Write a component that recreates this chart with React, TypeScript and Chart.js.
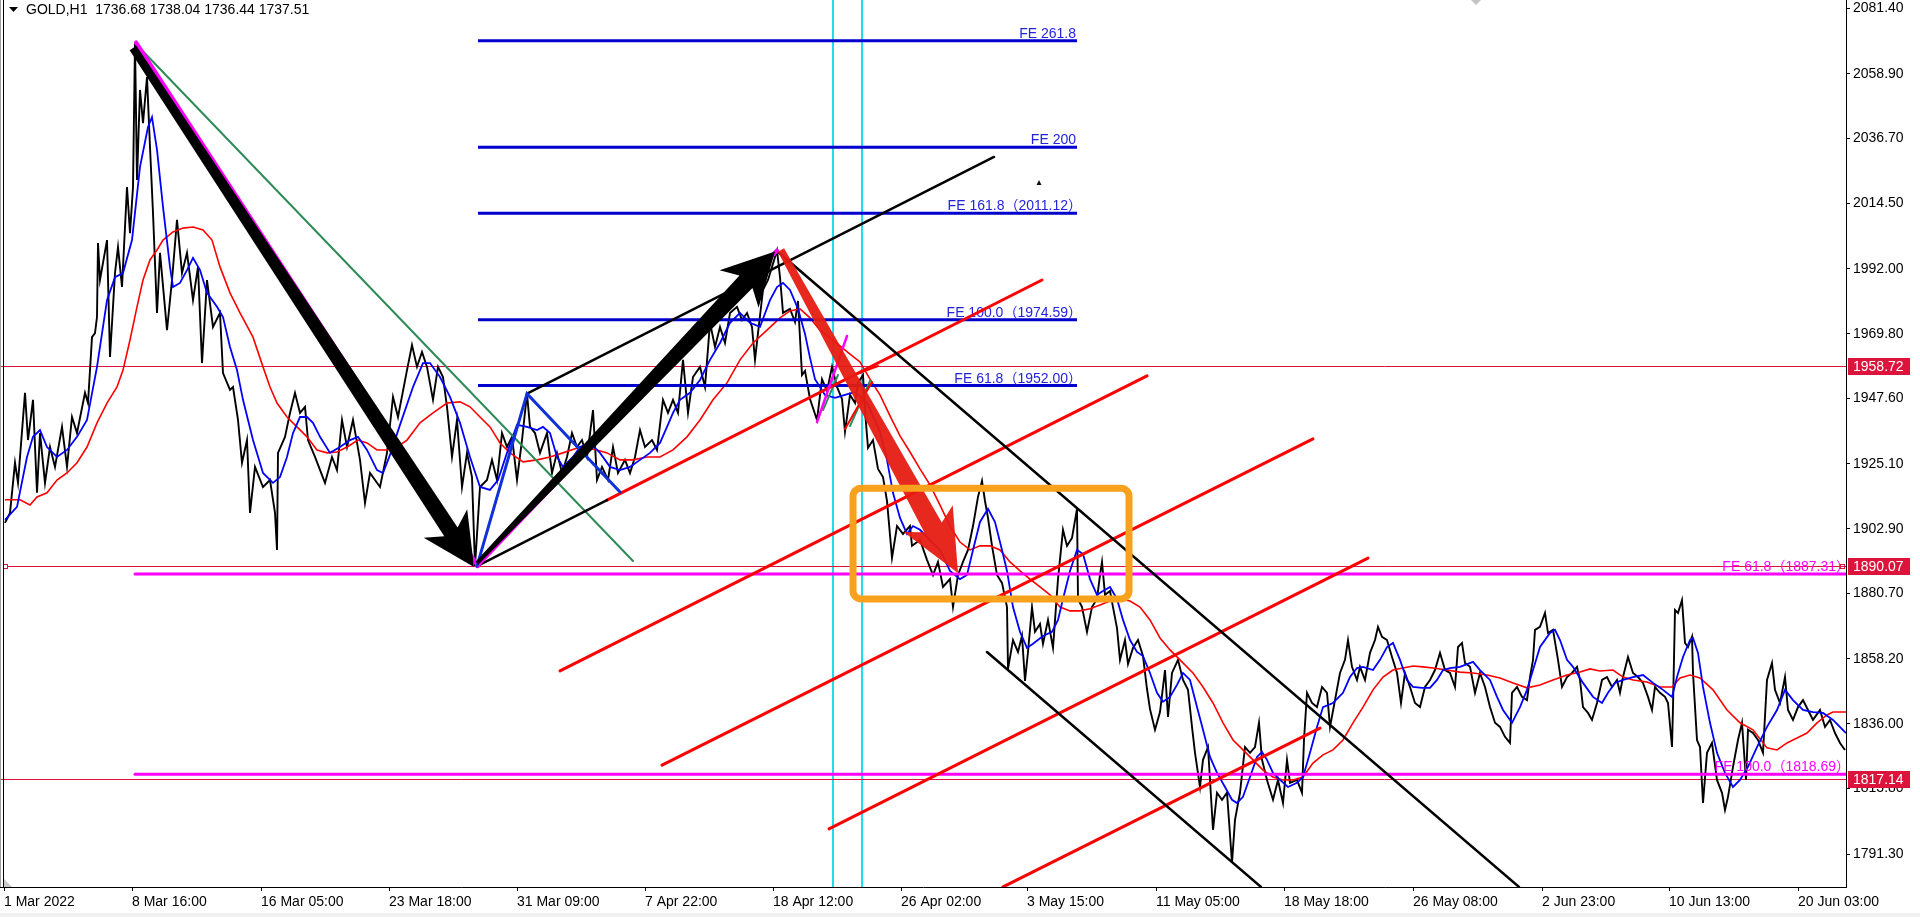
import { useEffect, useRef } from 'react';
import { Chart, registerables } from 'chart.js';

Chart.register(...registerables);

const FONT = '"Liberation Sans", Arial, "Noto Sans CJK SC", sans-serif';

// ---------- axes ----------
const priceAxisTicks = [2081.4, 2058.9, 2036.7, 2014.5, 1992.0, 1969.8, 1947.6, 1925.1, 1902.9, 1880.7, 1858.2, 1836.0, 1813.8, 1791.3];
const timeTickBars = [4, 132, 261, 389, 517, 645, 773, 901, 1027, 1156, 1284, 1413, 1542, 1669, 1798];
const timeTickLabels = ['1 Mar 2022', '8 Mar 16:00', '16 Mar 05:00', '23 Mar 18:00', '31 Mar 09:00', '7 Apr 22:00', '18 Apr 12:00', '26 Apr 02:00', '3 May 15:00', '11 May 05:00', '18 May 18:00', '26 May 08:00', '2 Jun 23:00', '10 Jun 13:00', '20 Jun 03:00'];
const markedPrices = [1958.72, 1890.07, 1817.14];
const headerText = 'GOLD,H1  1736.68 1738.04 1736.44 1737.51';

// ---------- price (bar index, price) ----------
const pricePath: [number, number][] = [
  [5, 1904.9], [10, 1908.3], [15, 1925.5], [18, 1918.6], [25, 1949.5], [28, 1933.3], [33, 1947.1], [37, 1915.2], [40, 1935.7], [45, 1918.6],
  [50, 1930.9], [55, 1924.1], [62, 1937.8], [67, 1924.1], [72, 1941.2], [77, 1935.7], [85, 1949.5], [88, 1946.0], [92, 1968.6], [95, 1970.0],
  [97, 1975.5], [98, 2000.9], [100, 1988.2], [107, 2001.9], [110, 1961.8], [115, 1990.6], [118, 1999.5], [122, 1985.8], [127, 2020.1], [130, 2004.3],
  [133, 2020.1], [135, 2069.7], [137, 2022.5], [140, 2053.4], [143, 2042.0], [147, 2057.8], [150, 2033.8], [153, 2011.2], [157, 1976.9], [160, 1997.5],
  [167, 1971.0], [172, 1988.2], [177, 2008.8], [182, 1990.6], [187, 1997.5], [193, 1981.3], [198, 1992.7], [202, 1959.7], [207, 1988.2], [213, 1972.1],
  [220, 1976.9], [223, 1956.3], [230, 1950.5], [233, 1951.5], [238, 1940.2], [242, 1925.5], [247, 1933.3], [250, 1908.3], [255, 1924.1], [263, 1917.2],
  [270, 1919.6], [275, 1908.3], [277, 1895.6], [278, 1928.9], [285, 1934.4], [290, 1942.6], [295, 1949.5], [300, 1942.6], [305, 1944.7], [308, 1933.3],
  [315, 1927.5], [325, 1918.6], [332, 1927.5], [337, 1923.0], [342, 1940.2], [347, 1930.9], [353, 1940.2], [360, 1926.5], [365, 1911.7], [370, 1922.0],
  [380, 1917.2], [387, 1928.9], [393, 1948.1], [398, 1941.2], [407, 1957.3], [412, 1965.9], [417, 1958.4], [422, 1963.5], [427, 1958.4], [433, 1947.1],
  [438, 1958.4], [443, 1954.9], [447, 1944.7], [452, 1927.5], [457, 1940.2], [462, 1917.2], [467, 1928.9], [472, 1920.6], [475, 1890.07], [480, 1917.2],
  [487, 1919.6], [492, 1926.5], [497, 1919.6], [502, 1935.7], [507, 1930.9], [512, 1934.4], [517, 1919.6], [522, 1933.3], [527, 1949.2], [530, 1937.8],
  [535, 1935.7], [540, 1928.9], [547, 1935.7], [552, 1922.0], [557, 1928.9], [562, 1922.0], [567, 1927.5], [572, 1935.7], [577, 1930.9], [582, 1933.3],
  [587, 1927.5], [593, 1943.6], [597, 1919.6], [602, 1924.1], [608, 1919.6], [613, 1930.9], [618, 1922.0], [625, 1926.5], [630, 1922.0], [635, 1927.5],
  [640, 1936.7], [645, 1930.9], [652, 1933.3], [657, 1929.9], [663, 1947.1], [668, 1942.6], [673, 1947.1], [678, 1942.6], [683, 1960.8], [688, 1942.6],
  [693, 1954.9], [700, 1958.4], [705, 1951.5], [710, 1973.5], [715, 1965.2], [720, 1972.1], [725, 1966.6], [730, 1976.9], [737, 1979.0], [742, 1974.5],
  [747, 1976.9], [752, 1972.1], [755, 1960.8], [758, 1970.0], [763, 1984.8], [768, 1988.2], [772, 1992.7], [777, 1998.32], [780, 1989.2], [783, 1976.9],
  [790, 1978.3], [795, 1973.8], [798, 1981.0], [802, 1955.6], [805, 1957.0], [810, 1947.4], [817, 1940.2], [822, 1954.2], [827, 1950.1], [832, 1958.4],
  [837, 1951.5], [842, 1947.4], [845, 1936.1], [850, 1948.8], [855, 1946.0], [858, 1952.9], [863, 1955.6], [865, 1943.3], [868, 1930.6], [873, 1933.3],
  [878, 1923.4], [883, 1920.6], [887, 1912.4], [892, 1892.9], [897, 1903.8], [903, 1901.1], [910, 1903.8], [912, 1897.0], [920, 1899.0], [927, 1892.2],
  [933, 1887.0], [938, 1891.5], [943, 1882.9], [950, 1885.6], [953, 1876.0], [958, 1887.0], [963, 1891.5], [968, 1895.6], [973, 1903.8], [978, 1913.8],
  [982, 1919.3], [985, 1912.4], [988, 1906.6], [992, 1897.0], [997, 1887.0], [1002, 1884.3], [1007, 1876.0], [1008, 1854.8], [1013, 1864.7], [1018, 1860.6],
  [1022, 1866.1], [1025, 1850.7], [1028, 1860.6], [1032, 1876.0], [1035, 1867.5], [1040, 1870.2], [1043, 1863.4], [1048, 1871.6], [1053, 1862.0], [1058, 1885.6],
  [1063, 1902.5], [1067, 1897.0], [1072, 1899.7], [1077, 1909.7], [1078, 1878.8], [1082, 1876.0], [1087, 1867.5], [1092, 1876.0], [1097, 1878.8], [1100, 1887.0],
  [1102, 1891.5], [1105, 1880.2], [1110, 1881.5], [1113, 1876.0], [1117, 1868.8], [1120, 1857.9], [1125, 1864.7], [1128, 1856.5], [1133, 1862.0], [1138, 1864.7],
  [1143, 1859.2], [1147, 1847.9], [1150, 1841.0], [1155, 1833.9], [1160, 1840.0], [1165, 1854.4], [1168, 1838.3], [1172, 1853.4], [1178, 1857.9], [1183, 1851.0],
  [1188, 1847.6], [1192, 1834.9], [1195, 1826.0], [1200, 1814.3], [1203, 1823.6], [1208, 1828.0], [1213, 1799.6], [1217, 1812.3], [1222, 1809.9], [1227, 1812.3],
  [1232, 1788.3], [1235, 1803.0], [1240, 1812.3], [1245, 1828.0], [1250, 1826.0], [1255, 1828.0], [1259, 1836.3], [1262, 1823.6], [1267, 1816.7], [1273, 1809.9],
  [1278, 1816.7], [1283, 1808.8], [1287, 1823.6], [1290, 1815.7], [1297, 1816.7], [1302, 1812.3], [1304, 1830.4], [1307, 1846.6], [1312, 1843.1], [1317, 1841.7],
  [1322, 1848.6], [1327, 1846.6], [1330, 1834.9], [1335, 1844.1], [1340, 1853.4], [1345, 1857.9], [1348, 1864.7], [1352, 1855.5], [1357, 1851.0], [1360, 1855.5],
  [1365, 1851.0], [1370, 1860.3], [1375, 1864.7], [1378, 1869.2], [1382, 1865.8], [1387, 1864.7], [1392, 1858.9], [1397, 1853.4], [1401, 1843.1], [1405, 1853.4],
  [1410, 1848.6], [1415, 1843.1], [1420, 1841.7], [1425, 1848.6], [1430, 1851.0], [1435, 1854.4], [1440, 1860.3], [1445, 1854.4], [1450, 1853.4], [1455, 1848.6],
  [1458, 1862.3], [1462, 1863.7], [1465, 1856.8], [1470, 1855.5], [1475, 1846.6], [1480, 1853.4], [1485, 1848.6], [1490, 1841.7], [1495, 1836.3], [1500, 1834.9],
  [1505, 1831.5], [1510, 1829.4], [1512, 1846.6], [1517, 1848.6], [1522, 1845.2], [1527, 1844.1], [1530, 1852.0], [1533, 1857.9], [1535, 1868.2], [1540, 1869.2],
  [1545, 1874.0], [1548, 1867.1], [1553, 1868.2], [1558, 1857.9], [1562, 1848.6], [1567, 1852.0], [1572, 1853.4], [1577, 1855.5], [1580, 1851.0], [1583, 1841.7],
  [1588, 1839.7], [1592, 1837.3], [1597, 1843.1], [1602, 1851.0], [1607, 1852.0], [1612, 1848.6], [1617, 1851.0], [1620, 1846.6], [1623, 1852.0], [1628, 1858.9],
  [1633, 1853.4], [1638, 1852.0], [1643, 1850.0], [1648, 1845.2], [1652, 1840.7], [1655, 1848.6], [1660, 1846.6], [1665, 1845.2], [1668, 1843.1], [1672, 1828.0],
  [1673, 1841.7], [1675, 1875.0], [1678, 1874.0], [1682, 1878.4], [1685, 1863.7], [1688, 1862.3], [1692, 1865.8], [1693, 1853.4], [1697, 1830.4], [1700, 1828.0],
  [1703, 1808.8], [1707, 1826.0], [1712, 1829.4], [1717, 1816.7], [1722, 1812.3], [1725, 1806.4], [1728, 1810.9], [1733, 1821.2], [1738, 1830.4], [1742, 1836.3],
  [1746, 1816.7], [1748, 1833.9], [1753, 1832.8], [1758, 1830.4], [1763, 1826.0], [1767, 1851.0], [1772, 1856.8], [1775, 1847.6], [1780, 1843.1], [1785, 1852.0],
  [1788, 1840.7], [1793, 1837.3], [1798, 1841.7], [1803, 1844.1], [1808, 1840.7], [1813, 1837.3], [1820, 1840.7], [1825, 1834.9], [1830, 1837.3], [1835, 1832.8],
  [1840, 1829.4], [1845, 1827.0],
];

// fast moving average (blue)
const fastMA: [number, number][] = [
  [5, 1905.9], [17, 1910.4], [27, 1927.5], [33, 1934.4], [40, 1936.7], [47, 1930.9], [57, 1927.5], [67, 1929.9], [77, 1934.4], [87, 1940.2],
  [97, 1958.4], [107, 1981.3], [115, 1989.2], [123, 1990.6], [132, 2001.9], [140, 2027.0], [148, 2040.7], [152, 2044.1], [157, 2032.8], [163, 2013.3],
  [170, 1992.7], [173, 1985.8], [180, 1987.2], [187, 1991.6], [193, 1995.8], [200, 1991.6], [207, 1983.8], [217, 1979.0], [223, 1975.5], [230, 1965.2],
  [237, 1957.3], [243, 1947.1], [253, 1933.3], [263, 1922.0], [273, 1918.6], [280, 1920.6], [287, 1927.5], [293, 1935.7], [300, 1941.2], [307, 1941.2],
  [313, 1939.2], [320, 1934.4], [330, 1928.9], [340, 1930.9], [350, 1933.3], [358, 1934.4], [367, 1929.9], [377, 1923.0], [383, 1922.0], [390, 1928.2],
  [400, 1938.5], [413, 1951.5], [423, 1959.7], [430, 1959.7], [440, 1954.9], [450, 1948.1], [460, 1939.2], [470, 1927.5], [480, 1917.2], [490, 1916.2],
  [498, 1919.6], [507, 1928.9], [517, 1938.5], [527, 1937.8], [537, 1936.7], [543, 1937.8], [550, 1935.7], [557, 1927.5], [563, 1924.1], [573, 1927.5],
  [580, 1930.9], [590, 1932.3], [600, 1928.9], [610, 1924.1], [620, 1923.0], [630, 1924.1], [640, 1926.5], [650, 1928.9], [660, 1932.3], [667, 1937.8],
  [673, 1942.6], [680, 1947.1], [690, 1949.5], [700, 1953.9], [710, 1960.8], [720, 1966.6], [730, 1973.5], [740, 1976.9], [750, 1973.5], [760, 1972.1],
  [770, 1981.3], [777, 1985.8], [783, 1987.2], [790, 1984.8], [798, 1978.3], [805, 1969.7], [810, 1961.5], [815, 1954.2], [825, 1948.8], [835, 1947.8],
  [845, 1948.8], [855, 1949.8], [867, 1946.0], [873, 1941.6], [880, 1936.1], [887, 1926.5], [893, 1915.2], [900, 1906.6], [907, 1901.1], [913, 1903.8],
  [920, 1902.5], [930, 1899.0], [940, 1895.6], [950, 1888.4], [960, 1885.6], [967, 1887.0], [973, 1895.6], [980, 1905.2], [988, 1909.7], [995, 1905.2],
  [1002, 1895.6], [1007, 1888.4], [1013, 1876.0], [1020, 1867.5], [1027, 1862.0], [1033, 1863.4], [1043, 1866.1], [1052, 1867.5], [1058, 1871.6], [1063, 1878.8],
  [1070, 1888.4], [1077, 1895.6], [1083, 1894.2], [1090, 1885.6], [1097, 1880.2], [1103, 1881.5], [1110, 1882.9], [1117, 1878.8], [1123, 1871.6], [1130, 1864.7],
  [1137, 1860.6], [1143, 1859.2], [1150, 1853.4], [1157, 1846.6], [1163, 1843.5], [1170, 1845.2], [1177, 1849.3], [1183, 1853.4], [1190, 1851.0], [1197, 1841.7],
  [1203, 1833.9], [1210, 1824.6], [1217, 1819.1], [1225, 1814.3], [1232, 1809.9], [1237, 1808.8], [1243, 1810.9], [1250, 1817.7], [1257, 1824.6], [1262, 1826.3],
  [1267, 1823.6], [1273, 1819.1], [1280, 1816.7], [1288, 1814.3], [1297, 1815.7], [1303, 1817.7], [1310, 1826.0], [1317, 1834.9], [1323, 1841.7], [1333, 1843.1],
  [1343, 1846.6], [1350, 1852.0], [1357, 1855.1], [1363, 1855.5], [1373, 1854.4], [1380, 1857.9], [1387, 1862.3], [1393, 1863.7], [1400, 1857.9], [1407, 1851.0],
  [1413, 1848.6], [1422, 1848.3], [1430, 1848.3], [1437, 1851.0], [1443, 1854.4], [1450, 1855.1], [1460, 1855.5], [1473, 1857.2], [1480, 1854.4], [1490, 1851.0],
  [1497, 1845.2], [1503, 1840.7], [1512, 1836.3], [1520, 1841.7], [1527, 1847.6], [1533, 1854.4], [1540, 1862.3], [1550, 1867.1], [1555, 1868.2], [1560, 1864.7],
  [1567, 1857.9], [1573, 1855.5], [1583, 1850.0], [1593, 1845.2], [1602, 1843.1], [1608, 1846.6], [1615, 1850.0], [1623, 1851.0], [1633, 1852.0], [1643, 1852.7],
  [1653, 1850.0], [1663, 1847.6], [1672, 1845.2], [1677, 1852.0], [1683, 1858.9], [1690, 1864.7], [1693, 1865.4], [1698, 1860.3], [1703, 1848.6], [1710, 1836.3],
  [1717, 1826.0], [1725, 1819.1], [1733, 1814.3], [1740, 1816.7], [1748, 1821.2], [1757, 1828.0], [1767, 1834.9], [1777, 1840.7], [1785, 1847.6], [1793, 1844.1],
  [1803, 1840.7], [1813, 1840.0], [1823, 1839.7], [1833, 1837.3], [1846, 1832.8],
];

// slow moving average (red)
const slowMA: [number, number][] = [
  [5, 1912.8], [20, 1912.8], [30, 1911.0], [37, 1913.8], [47, 1915.2], [57, 1919.6], [67, 1922.0], [77, 1925.5], [87, 1930.9], [97, 1939.2],
  [107, 1946.0], [117, 1951.5], [123, 1957.3], [130, 1967.6], [137, 1979.0], [143, 1988.2], [150, 1995.1], [157, 1998.5], [163, 2001.9], [173, 2004.7],
  [183, 2006.0], [193, 2006.4], [203, 2005.4], [212, 2001.9], [220, 1992.7], [230, 1983.8], [240, 1976.9], [253, 1968.6], [263, 1958.4], [270, 1951.5],
  [277, 1946.0], [287, 1941.2], [297, 1937.8], [307, 1934.4], [317, 1929.9], [327, 1928.9], [337, 1929.2], [347, 1930.9], [358, 1933.3], [367, 1932.3],
  [377, 1929.9], [387, 1929.9], [400, 1931.6], [407, 1933.3], [420, 1939.2], [433, 1942.6], [447, 1946.0], [460, 1946.4], [470, 1944.7], [480, 1941.2],
  [490, 1937.8], [500, 1932.3], [510, 1928.9], [523, 1925.8], [537, 1926.5], [550, 1927.5], [563, 1928.9], [580, 1930.9], [597, 1929.9], [607, 1928.9],
  [620, 1926.5], [633, 1926.5], [647, 1927.5], [660, 1927.5], [673, 1929.9], [687, 1934.4], [700, 1940.2], [713, 1947.1], [727, 1952.9], [740, 1960.8],
  [753, 1966.6], [767, 1971.0], [780, 1975.2], [790, 1977.6], [800, 1978.3], [810, 1975.2], [820, 1971.0], [830, 1968.3], [840, 1965.6], [850, 1962.8],
  [860, 1960.1], [870, 1954.2], [880, 1948.8], [890, 1941.6], [900, 1934.7], [910, 1929.2], [920, 1923.4], [930, 1917.9], [940, 1911.0], [950, 1903.8],
  [960, 1898.3], [970, 1895.6], [980, 1897.0], [990, 1897.0], [1000, 1895.6], [1010, 1891.5], [1020, 1888.4], [1030, 1885.6], [1040, 1882.9], [1050, 1880.2],
  [1060, 1876.0], [1070, 1874.7], [1080, 1874.7], [1090, 1875.4], [1100, 1876.7], [1110, 1878.1], [1120, 1878.8], [1130, 1878.1], [1140, 1876.0], [1150, 1871.6],
  [1160, 1865.4], [1170, 1861.3], [1180, 1857.9], [1193, 1853.4], [1203, 1848.6], [1213, 1843.1], [1223, 1836.3], [1233, 1830.4], [1243, 1827.0], [1253, 1823.6],
  [1263, 1820.1], [1273, 1817.7], [1283, 1816.7], [1293, 1816.7], [1303, 1817.7], [1313, 1822.5], [1323, 1825.3], [1333, 1827.0], [1343, 1830.4], [1353, 1836.3],
  [1363, 1841.7], [1373, 1847.6], [1383, 1852.0], [1393, 1854.4], [1403, 1855.1], [1413, 1855.8], [1423, 1855.5], [1433, 1855.1], [1447, 1854.4], [1460, 1853.7],
  [1473, 1853.4], [1487, 1852.7], [1500, 1851.7], [1513, 1850.0], [1527, 1848.3], [1540, 1849.3], [1553, 1851.0], [1567, 1852.7], [1580, 1853.7], [1590, 1854.8],
  [1600, 1854.1], [1613, 1854.4], [1623, 1852.0], [1633, 1851.0], [1647, 1850.3], [1660, 1848.6], [1672, 1848.6], [1680, 1851.7], [1690, 1852.7], [1700, 1851.7],
  [1713, 1847.6], [1727, 1840.7], [1740, 1836.3], [1753, 1833.9], [1767, 1827.7], [1777, 1827.0], [1787, 1829.4], [1797, 1831.1], [1807, 1832.8], [1817, 1836.3],
  [1827, 1839.0], [1833, 1840.0], [1846, 1840.0],
];

// ---------- drawn objects (bar index, price) ----------
const feBlueLevels = [2070.28, 2033.73, 2011.12, 1974.59, 1952.0];
const feBlueLabels = ['FE 261.8', 'FE 200', 'FE 161.8（2011.12）', 'FE 100.0（1974.59）', 'FE 61.8（1952.00）'];
const feBlueSpan = [478, 1077];
const feBlueZigzag: [number, number][] = [[477, 1890.07], [527, 1949.21], [620, 1915.45]];
const feMagentaLevels = [1887.31, 1818.69];
const feMagentaLabels = ['FE 61.8（1887.31）', 'FE 100.0（1818.69）'];
const feMagentaSpan = [135, 1846];
const magentaSwings: [number, number][][] = [
  [[136, 2069.7], [478, 1890.07]],
  [[477, 1890.07], [777, 1998.32]],
  [[817, 1939.5], [847, 1969.0]],
];
const greenLines: [number, number][][] = [
  [[135, 2069.5], [633, 1891.8]],
  [[823, 1943.6], [838, 1955.6]],
  [[850, 1938.1], [870, 1953.6]],
];
const blackLines: [number, number][][] = [
  [[477, 1890.07], [607, 1912.7]],
  [[527, 1949.2], [994, 2030.4]],
  [[777, 1998.15], [1519, 1780.0]],
  [[987, 1860.6], [1261, 1780.0]],
];
const redLines: [number, number][][] = [
  [[607, 1912.7], [1042, 1988.2]],
  [[560, 1854.1], [1147, 1955.3]],
  [[662, 1821.8], [1313, 1933.7]],
  [[829, 1799.9], [1368, 1892.8]],
  [[1003, 1780.0], [1320, 1834.5]],
  [[845, 1937.1], [872, 1953.2]],
  [[852, 1955.3], [878, 1958.7]],
];
const blackArrows: [number, number][][] = [
  [[133, 2067.8], [474, 1889.75]],
  [[477, 1891.1], [775, 1998.0]],
];
const redArrow: [number, number][] = [[781, 1998.5], [958, 1887.7]];
const cyanBars = [833, 862];
const zoneBox: [number, number][] = [[853, 1916.8], [1129, 1878.8]];
const smallMarker: [number, number] = [1039, 2021.5];
const topMarkerBar = 1476;

function toPts(arr: [number, number][]) {
  return arr.map(([x, y]) => ({ x, y }));
}

function drawArrow(ctx: CanvasRenderingContext2D, ax: number, ay: number, bx: number, by: number,
  tailHalf: number, baseHalf: number, headHalf: number, headLen: number, color: string) {
  const dx = bx - ax, dy = by - ay;
  const len = Math.hypot(dx, dy);
  const ux = dx / len, uy = dy / len;
  const nx = -uy, ny = ux;
  const cx = bx - ux * headLen, cy = by - uy * headLen;
  const bx2 = cx + ux * 10, by2 = cy + uy * 10;
  ctx.beginPath();
  ctx.moveTo(ax + nx * tailHalf, ay + ny * tailHalf);
  ctx.lineTo(bx2 + nx * baseHalf, by2 + ny * baseHalf);
  ctx.lineTo(cx + nx * headHalf, cy + ny * headHalf);
  ctx.lineTo(bx, by);
  ctx.lineTo(cx - nx * headHalf, cy - ny * headHalf);
  ctx.lineTo(bx2 - nx * baseHalf, by2 - ny * baseHalf);
  ctx.lineTo(ax - nx * tailHalf, ay - ny * tailHalf);
  ctx.closePath();
  ctx.fillStyle = color;
  ctx.fill();
}

const noPad = (s: any) => {
  s.paddingTop = 0;
  s.paddingBottom = 0;
  s.paddingLeft = 0;
  s.paddingRight = 0;
};

const backgroundPlugin = {
  id: 'mtBackground',
  beforeDraw(chart: any) {
    const ctx = chart.ctx as CanvasRenderingContext2D;
    ctx.save();
    ctx.fillStyle = '#ffffff';
    ctx.fillRect(0, 0, chart.width, chart.height);
    ctx.fillStyle = '#f0f0f0';
    ctx.fillRect(0, 913, chart.width, 4);
    ctx.restore();
  },
  beforeDatasetsDraw(chart: any) {
    const ctx = chart.ctx as CanvasRenderingContext2D;
    const { x, y } = chart.scales;
    const a = chart.chartArea;
    ctx.save();
    ctx.beginPath();
    ctx.rect(a.left, a.top, a.right - a.left, a.bottom - a.top);
    ctx.clip();
    ctx.strokeStyle = '#22dcec';
    ctx.lineWidth = 2;
    cyanBars.forEach((b) => {
      const px = Math.round(x.getPixelForValue(b));
      ctx.beginPath();
      ctx.moveTo(px, a.top);
      ctx.lineTo(px, a.bottom);
      ctx.stroke();
    });
    ctx.strokeStyle = '#dc143c';
    ctx.lineWidth = 1;
    markedPrices.forEach((p, i) => {
      const py = Math.round(y.getPixelForValue(p)) + 0.5;
      const x0 = i === 1 ? 7 : a.left;
      ctx.beginPath();
      ctx.moveTo(x0, py);
      ctx.lineTo(a.right, py);
      ctx.stroke();
      if (i === 1) {
        ctx.strokeRect(3.5, py - 2, 4, 4);
        ctx.strokeRect(a.right - 5.5, py - 2, 4, 4);
      }
    });
    ctx.restore();
  },
};

const objectsPlugin = {
  id: 'mtObjects',
  afterDatasetsDraw(chart: any) {
    const ctx = chart.ctx as CanvasRenderingContext2D;
    const { x, y } = chart.scales;
    const a = chart.chartArea;
    const P = (pt: [number, number]) => [x.getPixelForValue(pt[0]), y.getPixelForValue(pt[1])];
    const seg = (s: [number, number][], color: string, w: number) => {
      const [x1, y1] = P(s[0]);
      const [x2, y2] = P(s[1]);
      ctx.strokeStyle = color;
      ctx.lineWidth = w;
      ctx.beginPath();
      ctx.moveTo(x1, y1);
      ctx.lineTo(x2, y2);
      ctx.stroke();
    };
    ctx.save();
    ctx.beginPath();
    ctx.rect(a.left, a.top, a.right - a.left, a.bottom - a.top);
    ctx.clip();
    ctx.lineCap = 'round';

    ctx.font = '14px ' + FONT;
    ctx.textAlign = 'right';
    ctx.textBaseline = 'alphabetic';
    feMagentaLevels.forEach((p, i) => {
      const py = y.getPixelForValue(p);
      ctx.strokeStyle = '#ff00ff';
      ctx.lineWidth = 3;
      ctx.beginPath();
      ctx.moveTo(x.getPixelForValue(feMagentaSpan[0]), py);
      ctx.lineTo(x.getPixelForValue(feMagentaSpan[1]), py);
      ctx.stroke();
      ctx.fillStyle = '#ff00ff';
      ctx.fillText(feMagentaLabels[i], a.right + 4, py - 3);
    });

    feBlueLevels.forEach((p, i) => {
      const py = y.getPixelForValue(p);
      ctx.strokeStyle = '#0000cd';
      ctx.lineWidth = 3;
      ctx.lineCap = 'butt';
      ctx.beginPath();
      ctx.moveTo(x.getPixelForValue(feBlueSpan[0]), py);
      ctx.lineTo(x.getPixelForValue(feBlueSpan[1]), py);
      ctx.stroke();
      ctx.fillStyle = '#2424dc';
      const hasParen = feBlueLabels[i].includes('（');
      ctx.fillText(feBlueLabels[i], x.getPixelForValue(feBlueSpan[1]) + (hasParen ? 5 : -1), py - 3);
    });
    ctx.lineCap = 'round';

    greenLines.forEach((s) => seg(s, '#2e8b57', 2));
    redLines.forEach((s, i) => seg(s, '#ff0000', i < 5 ? 3 : 2));
    blackLines.forEach((s) => seg(s, '#000000', 2.5));
    magentaSwings.forEach((s, i) => seg(s, '#ff00ff', i < 2 ? 4 : 2.5));

    ctx.strokeStyle = '#1030d8';
    ctx.lineWidth = 3;
    ctx.beginPath();
    feBlueZigzag.forEach((pt, i) => {
      const [px, py] = P(pt);
      if (i === 0) ctx.moveTo(px, py); else ctx.lineTo(px, py);
    });
    ctx.stroke();

    {
      const [ax, ay] = P(blackArrows[0][0]);
      const [bx, by] = P(blackArrows[0][1]);
      drawArrow(ctx, ax, ay, bx, by, 4, 8, 26, 52, '#000000');
    }
    {
      const [ax, ay] = P(blackArrows[1][0]);
      const [bx, by] = P(blackArrows[1][1]);
      drawArrow(ctx, ax, ay, bx, by, 2, 9, 27, 52, '#000000');
    }
    {
      const [ax, ay] = P(redArrow[0]);
      const [bx, by] = P(redArrow[1]);
      drawArrow(ctx, ax, ay, bx, by, 3.5, 10, 28, 62, 'rgba(230,28,18,0.95)');
    }

    {
      const [x1, y1] = P(zoneBox[0]);
      const [x2, y2] = P(zoneBox[1]);
      ctx.strokeStyle = '#f8a11c';
      ctx.lineWidth = 7;
      ctx.beginPath();
      (ctx as any).roundRect(x1, y1, x2 - x1, y2 - y1, 8);
      ctx.stroke();
    }

    {
      const [mx, my] = P(smallMarker);
      ctx.fillStyle = '#111';
      ctx.beginPath();
      ctx.moveTo(mx - 2.5, my + 2);
      ctx.lineTo(mx + 2.5, my + 2);
      ctx.lineTo(mx, my - 3);
      ctx.closePath();
      ctx.fill();
    }
    {
      const tx = x.getPixelForValue(topMarkerBar);
      ctx.fillStyle = '#c4c4c4';
      ctx.beginPath();
      ctx.moveTo(tx - 7, -2);
      ctx.lineTo(tx, 5);
      ctx.lineTo(tx + 7, -2);
      ctx.closePath();
      ctx.fill();
    }
    ctx.restore();
  },
  afterDraw(chart: any) {
    const ctx = chart.ctx as CanvasRenderingContext2D;
    const { y } = chart.scales;
    const a = chart.chartArea;
    ctx.save();
    ctx.font = '14px ' + FONT;
    ctx.textAlign = 'left';
    ctx.textBaseline = 'middle';
    markedPrices.forEach((p) => {
      const py = Math.round(y.getPixelForValue(p));
      ctx.fillStyle = '#dc143c';
      ctx.fillRect(a.right + 2, py - 8, 62, 17);
      ctx.fillStyle = '#ffffff';
      ctx.fillText(p.toFixed(2), a.right + 7, py + 1);
    });
    ctx.fillStyle = '#a0a0a0';
    ctx.fillRect(0, 0, 1, a.bottom);
    ctx.fillStyle = '#000';
    ctx.fillRect(3, 0, 1, a.bottom);
    ctx.fillStyle = '#c8c8c8';
    ctx.beginPath();
    ctx.moveTo(4, a.bottom - 8);
    ctx.lineTo(4, a.bottom);
    ctx.lineTo(12, a.bottom);
    ctx.closePath();
    ctx.fill();
    ctx.fillStyle = '#000';
    ctx.beginPath();
    ctx.moveTo(9, 7);
    ctx.lineTo(18, 7);
    ctx.lineTo(13.5, 12);
    ctx.closePath();
    ctx.fill();
    ctx.font = '14px ' + FONT;
    ctx.textBaseline = 'middle';
    ctx.fillText(headerText, 26, 10);
    ctx.restore();
  },
};

export default function App() {
  const ref = useRef<HTMLCanvasElement>(null);
  useEffect(() => {
    const canvas = ref.current;
    if (!canvas) return;
    const chart = new Chart(canvas, {
      type: 'line',
      data: {
        datasets: [
          { data: toPts(fastMA), borderColor: '#0000ff', borderWidth: 1.8, pointRadius: 0, order: 1, tension: 0 } as any,
          { data: toPts(slowMA), borderColor: '#ff0000', borderWidth: 1.6, pointRadius: 0, order: 2, tension: 0 } as any,
          { data: toPts(pricePath), borderColor: '#000000', borderWidth: 1.9, pointRadius: 0, order: 3, tension: 0 } as any,
        ],
      },
      options: {
        responsive: false,
        devicePixelRatio: 1,
        animation: false,
        events: [],
        parsing: false,
        layout: { padding: 0 },
        plugins: { legend: { display: false }, tooltip: { enabled: false } },
        scales: {
          x: {
            type: 'linear',
            position: 'bottom',
            min: 0,
            max: 1846,
            bounds: 'data',
            grid: { drawOnChartArea: false, drawTicks: true, tickLength: 4, color: '#000' },
            border: { display: true, color: '#000', width: 1 },
            ticks: {
              autoSkip: false,
              maxRotation: 0,
              minRotation: 0,
              align: 'start',
              padding: 3,
              color: '#000',
              font: { family: FONT, size: 14 },
              callback: (_v: any, i: number) => timeTickLabels[i] ?? '',
            },
            afterBuildTicks: (s: any) => { s.ticks = timeTickBars.map((v) => ({ value: v })); },
            afterFit: (s: any) => { s.height = 30; noPad(s); },
          },
          y: {
            type: 'linear',
            position: 'right',
            min: 1779.98,
            max: 2084.25,
            bounds: 'data',
            grid: { drawOnChartArea: false, drawTicks: true, tickLength: 4, color: '#000' },
            border: { display: true, color: '#000', width: 1 },
            ticks: {
              autoSkip: false,
              padding: 3,
              color: '#000',
              font: { family: FONT, size: 14 },
              callback: (v: any) => Number(v).toFixed(2),
            },
            afterBuildTicks: (s: any) => { s.ticks = priceAxisTicks.map((v) => ({ value: v })); },
            afterFit: (s: any) => { s.width = 74; noPad(s); },
          },
        },
      } as any,
      plugins: [backgroundPlugin, objectsPlugin],
    });
    return () => chart.destroy();
  }, []);
  return (
    <div style={{ position: 'fixed', left: 0, top: 0, width: 1920, height: 917, background: '#fff' }}>
      <canvas ref={ref} width={1920} height={917} style={{ display: 'block', width: 1920, height: 917 }} />
    </div>
  );
}
